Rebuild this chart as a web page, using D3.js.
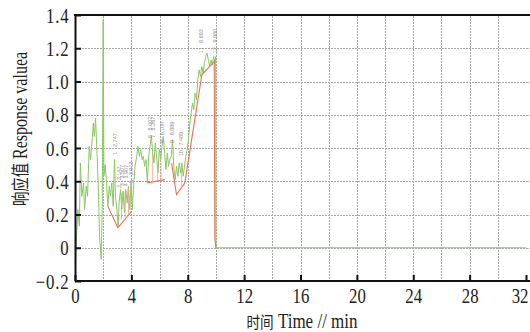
<!DOCTYPE html>
<html>
<head>
<meta charset="utf-8">
<script src="https://cdn.jsdelivr.net/npm/d3@7/dist/d3.min.js"></script>
<style>
  body { margin:0; background:#fff; }
  svg { display:block; }
</style>
</head>
<body>
<div id="chart-area"></div>
<script>
//Data
var greenTime = [0.02,0.1,0.2,0.31,0.38,0.49,0.61,0.68,0.8,0.89,1.01,1.1,1.2,1.3,1.37,1.46,1.53,1.6,1.67,1.74,1.86,1.93,2.0,2.05,
  2.14,2.24,2.33,2.43,2.52,2.61,2.71,2.8,2.87,2.97,3.06,3.13,3.23,3.32,3.41,3.51,3.6,3.7,3.79,3.89,3.98,4.07,4.17,4.26,4.38,
  4.47,4.57,4.66,4.76,4.85,4.94,5.04,5.13,5.23,5.32,5.42,5.51,5.6,5.7,5.79,5.89,5.98,6.08,6.17,6.26,6.36,6.45,6.55,6.64,6.73,
  6.83,6.92,7.02,7.11,7.2,7.3,7.39,7.49,7.58,7.68,7.77,7.86,7.96,8.05,8.15,8.24,8.34,8.43,8.52,8.62,8.71,8.81,8.9,9.0,9.09,
  9.18,9.28,9.37,9.46,9.56,9.65,9.75,9.84,9.94,9.98,10.0,32];
var greenValue = [-0.10,0.05,0.23,0.13,0.51,0.31,0.39,0.23,0.37,0.31,0.61,0.53,0.63,0.75,0.67,0.78,0.63,0.49,0.31,0.07,-0.07,0.23,1.37,0.43,
  0.50,0.39,0.25,0.37,0.31,0.39,0.25,0.53,0.31,0.23,0.13,0.27,0.35,0.23,0.34,0.21,0.35,0.27,0.37,0.23,0.39,0.23,0.39,0.49,0.55,
  0.61,0.55,0.59,0.53,0.55,0.49,0.53,0.39,0.55,0.61,0.67,0.57,0.51,0.63,0.55,0.45,0.59,0.53,0.61,0.67,0.57,0.47,0.57,0.49,0.53,
  0.55,0.65,0.47,0.41,0.49,0.43,0.51,0.45,0.51,0.43,0.49,0.55,0.59,0.65,0.75,0.81,0.87,0.83,0.93,0.89,1.01,1.07,1.03,1.09,1.05,
  1.11,1.15,1.17,1.13,1.09,1.13,1.10,1.15,1.11,1.15,0,0];

// red baselines (minima)
var redTime1 = [2.33,3.04,4.03];
var redValue1 = [0.25,0.12,0.22];
var redTime2 = [5.13,6.38];
var redValue2 = [0.39,0.41];
var redTime3 = [6.85,7.2,7.79,9.0,9.88,9.92,10.0];
var redValue3 = [0.51,0.32,0.39,1.04,1.12,0.06,0.0];

// red stems: time, top, bottom
var stemTime = [3.3,3.55,3.8,5.51,5.86,6.1,7.56];
var stemTop = [0.33,0.34,0.36,0.56,0.45,0.52,0.50];
var stemBottom = [0.17,0.18,0.20,0.395,0.40,0.405,0.37];

// peak labels
var labelNum = ["1","2","3","4","5","6","7","8","9","10","11","12"];
var labelVal = ["2.747","3.147","3.507","3.907","3.913","5.007","5.267","6.100","6.889","7.489","8.893","9.980"];
var labelTime = [2.85,3.1,3.35,3.65,3.95,5.35,5.55,6.15,6.9,7.5,8.95,9.95];
var labelValue = [0.56,0.36,0.37,0.37,0.39,0.66,0.66,0.63,0.63,0.55,1.17,1.17];

var xTicks = [0,4,8,12,16,20,24,28,32];
var yTicks = [-0.2,0,0.2,0.4,0.6,0.8,1.0,1.2,1.4];
var yTickLabels = ["\u22120.2","0","0.2","0.4","0.6","0.8","1.0","1.2","1.4"];
var xGrid = [2,4,6,8,10,12,14,16,18,20,22,24,26,28,30];
var yGrid = [0,0.2,0.4,0.6,0.8,1.0,1.2];

//Margin
var margin = { left:75, right:4, top:15, bottom:51 },
    width = 530 - margin.left - margin.right,
    height = 332 - margin.top - margin.bottom;

var svg = d3.select("#chart-area").append("svg")
    .attr("width", 530)
    .attr("height", 332);
var g = svg.append("g")
    .attr("transform", "translate("+margin.left+","+margin.top+")");

//Scales
var x = d3.scaleLinear().domain([0,32]).range([0,width]);
var y = d3.scaleLinear().domain([-0.2,1.4]).range([height,0]);

//Grid
var grid = g.append("g").attr("class","grid");
grid.selectAll("line.v").data(xGrid).enter().append("line").attr("class","v")
    .attr("x1", d => Math.round(x(d))+0.5).attr("x2", d => Math.round(x(d))+0.5)
    .attr("y1", 1).attr("y2", height)
    .style("stroke","#a8a8a8").style("stroke-width","1px").style("stroke-dasharray","2,1");
grid.selectAll("line.h").data(yGrid).enter().append("line").attr("class","h")
    .attr("x1", 1).attr("x2", width+4)
    .attr("y1", d => Math.round(y(d))+0.5).attr("y2", d => Math.round(y(d))+0.5)
    .style("stroke","#a8a8a8").style("stroke-width","1px").style("stroke-dasharray","2,1");

//Green response line
var line = d3.line().x(d => x(d[0])).y(d => y(d[1]));
g.append("path")
    .attr("d", line(d3.zip(greenTime, greenValue)))
    .attr("fill","none").attr("stroke","#8cc764").attr("stroke-width",1);

//Red lines
[[redTime1,redValue1],[redTime2,redValue2],[redTime3,redValue3]].forEach(function(r){
  g.append("path")
    .attr("d", line(d3.zip(r[0], r[1])))
    .attr("fill","none").attr("stroke","#ec7254").attr("stroke-width",1.1);
});
g.selectAll("line.stem").data(stemTime).enter().append("line").attr("class","stem")
    .attr("x1", d => x(d)).attr("x2", d => x(d))
    .attr("y1", (d,i) => y(stemTop[i])).attr("y2", (d,i) => y(stemBottom[i]))
    .attr("stroke","#f0a090").attr("stroke-width",0.8);

//Labels
g.selectAll("text.lbl").data(labelNum).enter().append("text").attr("class","lbl")
    .attr("transform", (d,i) => "translate("+(x(labelTime[i])+2)+","+y(labelValue[i])+") rotate(-90)")
    .attr("font-family","Liberation Sans").attr("font-size","5.5px")
    .attr("fill", (d,i) => i==4 ? "#9a7ab0" : "#909090")
    .attr("xml:space","preserve")
    .text((d,i) => d + "   " + labelVal[i]);

//Axes
var xAxisCall = d3.axisBottom(x).tickValues(xTicks).tickSizeInner(-6).tickSizeOuter(0).tickPadding(6)
    .tickFormat(d3.format("d"));
var xAxis = g.append("g").attr("transform","translate(0,"+height+")").call(xAxisCall);
var yAxisCall = d3.axisLeft(y).tickValues(yTicks).tickSizeInner(-6).tickSizeOuter(0).tickPadding(7)
    .tickFormat((d,i) => yTickLabels[i]);
var yAxis = g.append("g").call(yAxisCall);

[xAxis,yAxis].forEach(function(a){
  a.select(".domain").attr("stroke","#111").attr("stroke-width",2);
  a.selectAll(".tick line").attr("stroke","#111").attr("stroke-width",2);
  a.selectAll(".tick text").attr("font-family","Liberation Serif").attr("font-size","21px").attr("fill","#222");
});
xAxis.select(".domain").attr("d","M0,0H"+(width+4));
xAxis.selectAll(".tick text").attr("transform","scale(0.8,1)").attr("dy","0.74em");
xAxis.selectAll(".tick text").filter(d => d == 32).attr("text-anchor","end").attr("x", 2/0.8);
yAxis.selectAll(".tick text").attr("transform","scale(0.8,1)").attr("letter-spacing","1px").attr("dy","0.34em");

//Top frame
g.append("line").attr("x1",-1).attr("x2",width+4).attr("y1",0).attr("y2",0)
    .attr("stroke","#111").attr("stroke-width",2);

//Axis titles
var xt = svg.append("text")
    .attr("transform","translate(302,328) scale(0.85,1)")
    .attr("text-anchor","middle").attr("font-family","Liberation Serif").attr("font-size","20px").attr("fill","#222");
xt.append("tspan").attr("font-family","Noto Sans CJK SC").attr("font-size","16px").text("时间");
xt.append("tspan").text(" Time // min");

var yt = svg.append("text")
    .attr("transform","translate(27,129) rotate(-90) scale(0.8,1)")
    .attr("text-anchor","middle").attr("font-family","Liberation Serif").attr("font-size","20px").attr("fill","#222");
yt.append("tspan").attr("font-family","Noto Sans CJK SC").attr("font-size","18px").text("响应值");
yt.append("tspan").text(" Response valuea");
</script>
</body>
</html>
